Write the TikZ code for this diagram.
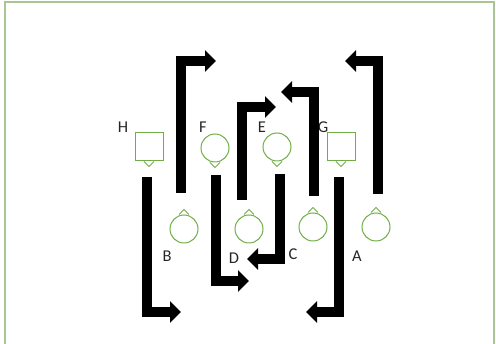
\documentclass[tikz,border=0pt]{standalone}
\usepackage{fontspec}
\setmainfont{Carlito}
\usetikzlibrary{arrows.meta}
\definecolor{frameg}{RGB}{170,196,150}
\definecolor{shapeg}{RGB}{112,173,71}
\begin{document}
\begin{tikzpicture}[x=1pt,y=-1pt,
  bigarrow/.style={line width=10pt,line join=miter,-{Triangle[width=21pt,length=11pt]}},
  sq/.style={draw=shapeg,line width=1pt,minimum size=28pt,inner sep=0pt},
  circ/.style={draw=shapeg,line width=1pt,circle,minimum size=28pt,inner sep=0pt},
  lbl/.style={font=\fontsize{16.5}{16.5}\selectfont,text=black!85,inner sep=0pt}]
\useasboundingbox (0,0) rectangle (496,344);
\draw[frameg,line width=1.5pt] (5,350) -- (5,2) -- (494,2) -- (494,350);
% shapes top row
\node[sq] (H) at (149,147) {};
\node[circ] (F) at (215,148) {};
\node[circ] (E) at (277,147) {};
\node[sq] (G) at (341,147) {};
\foreach \n in {H,F,E,G}{
  \draw[shapeg,line width=1pt] ([xshift=-5pt]\n.south) -- ([yshift=-5pt]\n.south) -- ([xshift=5pt]\n.south);
}
% shapes bottom row
\node[circ] (c1) at (184,229) {};
\node[circ] (c2) at (249,229) {};
\node[circ] (c3) at (313,227) {};
\node[circ] (c4) at (376,227) {};
\foreach \n in {c1,c2,c3,c4}{
  \draw[shapeg,line width=1pt] ([xshift=-5pt]\n.north) -- ([yshift=5pt]\n.north) -- ([xshift=5pt]\n.north);
}
% labels
\node[lbl] (lH) at (123,127) {H};
\node[lbl] (lF) at (203,127) {F};
\node[lbl] (lE) at (262,127) {E};
\node[lbl] (lG) at (323,127) {G};
\node[lbl] (lB) at (167,256) {B};
\node[lbl] (lD) at (234,258) {D};
\node[lbl] (lC) at (293,254) {C};
\node[lbl] (lA) at (357,256) {A};
% arrows
\draw[bigarrow] (181,193) -- (181,61) -- (216,61);
\draw[bigarrow] (378,194) -- (378,61) -- (345,61);
\draw[bigarrow] (147,177) -- (147,312) -- (181,312);
\draw[bigarrow] (339,177) -- (339,312) -- (306,312);
\draw[bigarrow] (216,175) -- (216,281) -- (249,281);
\draw[bigarrow] (280,174) -- (280,259) -- (247,259);
\draw[bigarrow] (242,200) -- (242,107) -- (276,107);
\draw[bigarrow] (314,196) -- (314,92) -- (281,92);
\end{tikzpicture}
\end{document}
